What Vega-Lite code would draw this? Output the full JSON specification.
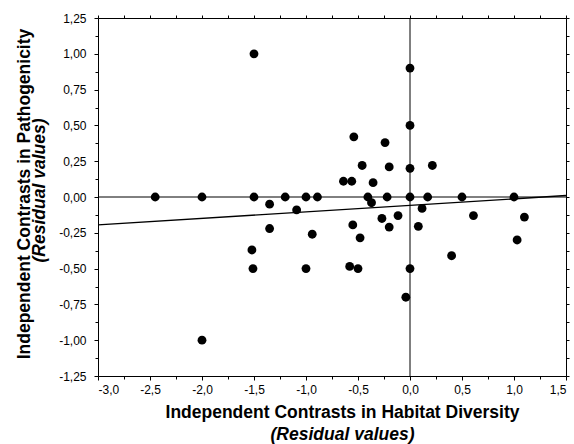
{
  "$schema": "https://vega.github.io/schema/vega-lite/v6.json",
  "width": 468,
  "height": 358,
  "autosize": {"type": "none"},
  "padding": {"left": 98, "top": 18, "right": 8, "bottom": 68},
  "config": {
    "font": "Liberation Sans",
    "view": {"stroke": null},
    "locale": {"number": {"decimal": ",", "thousands": ".", "grouping": [3], "currency": ["", ""], "minus": "-"}},
    "axis": {
      "grid": false,
      "domainColor": "black",
      "domainWidth": 1,
      "tickColor": "black",
      "tickWidth": 1,
      "labelColor": "black",
      "labelFont": "Liberation Sans",
      "labelFontSize": 12,
      "titleColor": "black",
      "titleFont": "Liberation Sans",
      "titleFontSize": 17.5,
      "titleFontWeight": "bold"
    }
  },
  "datasets": {
    "points": [
      {"x": -1.5, "y": 1.0},
      {"x": -2.45, "y": 0},
      {"x": -2.0, "y": 0},
      {"x": -1.5, "y": 0},
      {"x": -1.35, "y": -0.05},
      {"x": -1.2, "y": 0},
      {"x": -1.09, "y": -0.09},
      {"x": -1.0, "y": 0},
      {"x": -0.89, "y": 0},
      {"x": -1.35, "y": -0.22},
      {"x": -0.94, "y": -0.26},
      {"x": -1.52, "y": -0.37},
      {"x": -1.51, "y": -0.5},
      {"x": -1.0, "y": -0.5},
      {"x": -2.0, "y": -1.0},
      {"x": 0.0, "y": 0.9},
      {"x": 0.0, "y": 0.5},
      {"x": -0.54, "y": 0.42},
      {"x": -0.24, "y": 0.38},
      {"x": -0.46, "y": 0.22},
      {"x": -0.2, "y": 0.21},
      {"x": 0.0, "y": 0.2},
      {"x": 0.215, "y": 0.22},
      {"x": -0.64, "y": 0.11},
      {"x": -0.56, "y": 0.11},
      {"x": -0.355, "y": 0.1},
      {"x": -0.405, "y": 0},
      {"x": -0.22, "y": 0},
      {"x": 0.0, "y": 0},
      {"x": 0.17, "y": 0},
      {"x": 0.5, "y": 0},
      {"x": 1.0, "y": 0},
      {"x": -0.37, "y": -0.04},
      {"x": 0.116, "y": -0.08},
      {"x": -0.27, "y": -0.15},
      {"x": -0.115, "y": -0.13},
      {"x": 0.61, "y": -0.13},
      {"x": 1.1, "y": -0.14},
      {"x": -0.55, "y": -0.195},
      {"x": -0.2, "y": -0.21},
      {"x": 0.08, "y": -0.205},
      {"x": -0.48, "y": -0.285},
      {"x": 1.03, "y": -0.3},
      {"x": 0.4, "y": -0.41},
      {"x": -0.58, "y": -0.485},
      {"x": -0.5, "y": -0.5},
      {"x": 0.0, "y": -0.5},
      {"x": -0.04, "y": -0.7}
    ],
    "fit": [
      {"x": -3.0, "y": -0.195},
      {"x": 1.5, "y": 0.01}
    ],
    "zero": [
      {"v": 0}
    ]
  },
  "resolve": {"axis": {"x": "independent", "y": "independent"}},
  "layer": [
    {
      "data": {"name": "zero"},
      "mark": {"type": "rule", "color": "black", "strokeWidth": 1},
      "encoding": {
        "x": {
          "field": "v", "type": "quantitative",
          "scale": {"domain": [-3, 1.5], "nice": false, "zero": false},
          "axis": {"orient": "top", "values": [-3, -2.75, -2.5, -2.25, -2, -1.75, -1.5, -1.25, -1, -0.75, -0.5, -0.25, 0, 0.25, 0.5, 0.75, 1, 1.25, 1.5], "labels": false, "tickSize": 3, "title": null}
        }
      }
    },
    {
      "data": {"name": "zero"},
      "mark": {"type": "rule", "color": "black", "strokeWidth": 1},
      "encoding": {
        "y": {
          "field": "v", "type": "quantitative",
          "scale": {"domain": [-1.25, 1.25], "nice": false, "zero": false},
          "axis": {"orient": "right", "values": [-1.25, -1.125, -1, -0.875, -0.75, -0.625, -0.5, -0.375, -0.25, -0.125, 0, 0.125, 0.25, 0.375, 0.5, 0.625, 0.75, 0.875, 1, 1.125, 1.25], "labels": false, "tickSize": 3, "title": null}
        }
      }
    },
    {
      "data": {"name": "fit"},
      "mark": {"type": "line", "color": "black", "strokeWidth": 1.4},
      "encoding": {
        "x": {
          "field": "x", "type": "quantitative",
          "scale": {"domain": [-3, 1.5], "nice": false, "zero": false},
          "axis": {"orient": "bottom", "values": [-2.75, -2.25, -1.75, -1.25, -0.75, -0.25, 0.25, 0.75, 1.25], "labels": false, "domain": false, "tickSize": 3, "title": "(Residual values)", "titleFontStyle": "italic", "titleX": 244, "titleY": 63, "titleBaseline": "alphabetic", "titleAlign": "center", "titleAngle": 0}
        },
        "y": {
          "field": "y", "type": "quantitative",
          "scale": {"domain": [-1.25, 1.25], "nice": false, "zero": false},
          "axis": {"orient": "left", "values": [-1.125, -0.875, -0.625, -0.375, -0.125, 0.125, 0.375, 0.625, 0.875, 1.125], "labels": false, "domain": false, "tickSize": 3, "title": "(Residual values)", "titleFontStyle": "italic", "titleX": -54, "titleY": 172, "titleBaseline": "alphabetic", "titleAlign": "center", "titleAngle": 270}
        }
      }
    },
    {
      "data": {"name": "points"},
      "mark": {"type": "point", "filled": true, "shape": "circle", "color": "black", "size": 78, "opacity": 1},
      "encoding": {
        "x": {
          "field": "x", "type": "quantitative",
          "scale": {"domain": [-3, 1.5], "nice": false, "zero": false},
          "axis": {"orient": "bottom", "values": [-3, -2.5, -2, -1.5, -1, -0.5, 0, 0.5, 1, 1.5], "format": ".1f", "tickSize": 4, "labelPadding": 4, "title": "Independent Contrasts in Habitat Diversity", "titleX": 244, "titleY": 41, "titleBaseline": "alphabetic", "titleAlign": "center", "titleAngle": 0}
        },
        "y": {
          "field": "y", "type": "quantitative",
          "scale": {"domain": [-1.25, 1.25], "nice": false, "zero": false},
          "axis": {"orient": "left", "values": [-1.25, -1, -0.75, -0.5, -0.25, 0, 0.25, 0.5, 0.75, 1, 1.25], "format": ".2f", "tickSize": 4, "labelPadding": 8, "title": "Independent Contrasts in Pathogenicity", "titleX": -69, "titleY": 175.5, "titleBaseline": "alphabetic", "titleAlign": "center", "titleAngle": 270}
        }
      }
    }
  ]
}
